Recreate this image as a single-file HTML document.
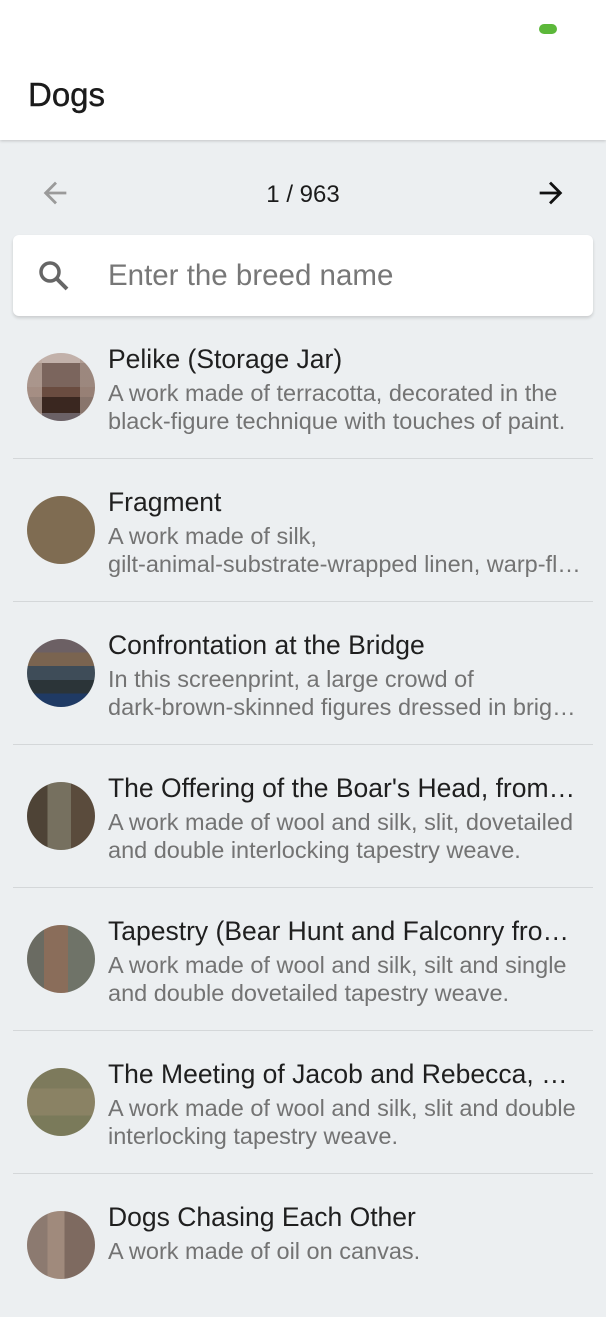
<!DOCTYPE html>
<html><head><meta charset="utf-8">
<style>
*{margin:0;padding:0;box-sizing:border-box}
body{width:606px;height:1280px;overflow:hidden;background:#eceff1;font-family:"Liberation Sans",Roboto,sans-serif;position:relative}
#header{position:absolute;left:0;top:0;width:606px;height:140px;background:#fff;box-shadow:0 1px 3px rgba(0,0,0,.18)}
#title{position:absolute;left:28px;top:76px;font-size:33px;color:#1b1b1b;-webkit-text-stroke:0.4px #1b1b1b}
#batt{position:absolute;left:539px;top:24px;width:18px;height:10px;border-radius:5px;background:#5cb83a}
.nav{position:absolute;top:176px;font-size:34px;line-height:36px}
#page{position:absolute;top:181px;left:0;width:606px;text-align:center;font-size:24px;color:#1b1b1b}
#search{position:absolute;left:13px;top:235px;width:580px;height:81px;background:#fff;border-radius:6px;box-shadow:0 2px 3px rgba(0,0,0,.15)}
#search span{position:absolute;left:95px;top:24px;font-size:29.5px;color:#777}
.row{position:absolute;left:0;width:606px;height:143px}
.row .sep{position:absolute;left:13px;right:13px;bottom:0;height:1px;background:#d4d7d9}
.av{position:absolute;left:27px;top:37px;width:68px;height:68px;border-radius:50%;overflow:hidden}
.t{position:absolute;left:108px;top:28px;font-size:26.5px;color:#1f1f1f;white-space:nowrap;width:472px;overflow:hidden;text-overflow:ellipsis}
.d{position:absolute;left:108px;top:63px;font-size:23.5px;line-height:28px;color:#737373;width:478px}
.d div{white-space:nowrap;overflow:hidden;text-overflow:ellipsis}
</style></head><body>
<div id="header">
<div id="batt"></div>
<div id="title">Dogs</div>
</div>
<div class="nav" style="left:38px">
<svg width="34" height="34" viewBox="0 0 24 24"><path d="M20 11H7.8l5.6-5.6L12 4l-8 8 8 8 1.4-1.4L7.8 13H20z" fill="#9a9a9a"/></svg></div>
<div id="page">1 / 963</div>
<div class="nav" style="left:534px">
<svg width="34" height="34" viewBox="0 0 24 24"><path d="M4 11h12.2l-5.6-5.6L12 4l8 8-8 8-1.4-1.4 5.6-5.6H4z" fill="#111"/></svg></div>
<div id="search">
<svg style="position:absolute;left:24px;top:24px" width="34" height="34" viewBox="0 0 34 34"><circle cx="13" cy="13" r="9" fill="none" stroke="#666" stroke-width="3.5"/><line x1="19.5" y1="19.5" x2="30" y2="30" stroke="#666" stroke-width="4"/></svg>
<span>Enter the breed name</span></div>

<div class="row" style="top:316px">
<div class="av" style="background:linear-gradient(90deg,rgba(190,170,160,.7) 0 22%,transparent 22% 78%,rgba(170,150,140,.7) 78%),linear-gradient(#c2b1aa 0 15%,#7b655d 15% 50%,#6a4c40 50% 65%,#3a2720 65% 88%,#6b6166 88%)"></div>
<div class="t">Pelike (Storage Jar)</div>
<div class="d"><div>A work made of terracotta, decorated in the</div><div>black-figure technique with touches of paint.</div></div>
<div class="sep"></div></div>

<div class="row" style="top:459px">
<div class="av" style="background:#7f6c52"></div>
<div class="t">Fragment</div>
<div class="d"><div>A work made of silk,</div><div>gilt-animal-substrate-wrapped linen, warp-fl…</div></div>
<div class="sep"></div></div>

<div class="row" style="top:602px">
<div class="av" style="background:linear-gradient(#6c6064 0 20%,#7a6450 20% 40%,#3e4c58 40% 60%,#2b3438 60% 80%,#1f3a64 80%)"></div>
<div class="t">Confrontation at the Bridge</div>
<div class="d"><div>In this screenprint, a large crowd of</div><div>dark-brown-skinned figures dressed in brigh…</div></div>
<div class="sep"></div></div>

<div class="row" style="top:745px">
<div class="av" style="background:linear-gradient(90deg,#4e4336 0 30%,#76705f 30% 65%,#5a4b3c 65%)"></div>
<div class="t">The Offering of the Boar's Head, from…</div>
<div class="d"><div>A work made of wool and silk, slit, dovetailed</div><div>and double interlocking tapestry weave.</div></div>
<div class="sep"></div></div>

<div class="row" style="top:888px">
<div class="av" style="background:linear-gradient(90deg,#6a6b62 0 25%,#8a6d5a 25% 60%,#6f7368 60%)"></div>
<div class="t">Tapestry (Bear Hunt and Falconry fro…</div>
<div class="d"><div>A work made of wool and silk, silt and single</div><div>and double dovetailed tapestry weave.</div></div>
<div class="sep"></div></div>

<div class="row" style="top:1031px">
<div class="av" style="background:linear-gradient(#7d7a5c 0 30%,#8a8264 30% 70%,#7a7a5a 70%)"></div>
<div class="t">The Meeting of Jacob and Rebecca, a…</div>
<div class="d"><div>A work made of wool and silk, slit and double</div><div>interlocking tapestry weave.</div></div>
<div class="sep"></div></div>

<div class="row" style="top:1174px">
<div class="av" style="background:linear-gradient(90deg,#8c7a70 0 30%,#a08a7c 30% 55%,#7e6a60 55%)"></div>
<div class="t">Dogs Chasing Each Other</div>
<div class="d"><div>A work made of oil on canvas.</div></div>
</div>
</body></html>
